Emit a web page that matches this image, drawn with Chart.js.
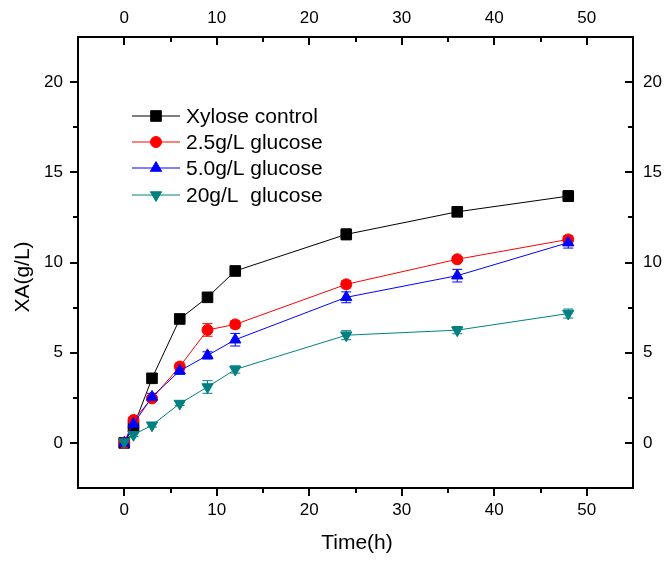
<!DOCTYPE html>
<html>
<head>
<meta charset="utf-8">
<script src="https://cdn.jsdelivr.net/npm/chart.js@4.4.1/dist/chart.umd.min.js"></script>
<style>
  html, body { margin: 0; padding: 0; background: #fff; }
  canvas { display: block; }
</style>
</head>
<body>
<canvas id="c" width="665" height="561"></canvas>
<script>
  // data
  const times = [0, 1, 3, 6, 9, 12, 24, 36, 48];
  const xyloseCtrl = [0, 0.9, 3.58, 6.87, 8.07, 9.53, 11.56, 12.81, 13.68];
  const glc25 = [0, 1.27, 2.47, 4.23, 6.26, 6.57, 8.79, 10.18, 11.28];
  const glc50 = [0, 1.05, 2.55, 4.0, 4.85, 5.72, 8.07, 9.27, 11.1];
  const glc20 = [0.05, 0.45, 0.98, 2.18, 3.1, 4.07, 5.97, 6.25, 7.17];

  const xyloseErr = [0.05, 0.1, 0.2, 0.15, 0.15, 0.15, 0.3, 0.2, 0.3];
  const glc25Err = [0.05, 0.15, 0.15, 0.2, 0.35, 0.2, 0.2, 0.15, 0.2];
  const glc50Err = [0.1, 0.2, 0.2, 0.2, 0.2, 0.35, 0.3, 0.35, 0.3];
  const glc20Err = [0.05, 0.1, 0.1, 0.1, 0.35, 0.2, 0.25, 0.2, 0.25];

  const xTicks = [0, 10, 20, 30, 40, 50];
  const xMinor = [5, 15, 25, 35, 45];
  const yTicks = [0, 5, 10, 15, 20];
  const yMinor = [2.5, 7.5, 12.5, 17.5];

  const labels = ['Xylose control', '2.5g/L glucose', '5.0g/L glucose', '20g/L  glucose'];

  const FONT = '"Liberation Sans", Arial, sans-serif';
  const pts = (ys) => times.map((t, i) => ({ x: t, y: ys[i] }));

  const series = [
    { label: labels[0], data: pts(xyloseCtrl), err: xyloseErr, color: '#000000', style: 'rect', r: 7.5, rot: 0, order: 3 },
    { label: labels[1], data: pts(glc25), err: glc25Err, color: '#ff0000', style: 'circle', r: 5.5, rot: 0, order: 2 },
    { label: labels[2], data: pts(glc50), err: glc50Err, color: '#0000ff', style: 'triangle', r: 6.5, rot: 0, order: 1 },
    { label: labels[3], data: pts(glc20), err: glc20Err, color: '#008080', style: 'triangle', r: 6.5, rot: 180, order: 0 },
  ];

  const errorBars = {
    id: 'errorBars',
    beforeDatasetsDraw(chart) {
      const { ctx } = chart;
      const ys = chart.scales.y;
      ctx.save();
      ctx.lineWidth = 1;
      series.forEach((s, i) => {
        const meta = chart.getDatasetMeta(i);
        ctx.strokeStyle = s.color;
        meta.data.forEach((p, j) => {
          const v = s.data[j].y, e = s.err[j];
          const top = ys.getPixelForValue(v + e), bot = ys.getPixelForValue(v - e);
          ctx.beginPath();
          ctx.moveTo(p.x, top); ctx.lineTo(p.x, bot);
          ctx.moveTo(p.x - 5, top); ctx.lineTo(p.x + 5, top);
          ctx.moveTo(p.x - 5, bot); ctx.lineTo(p.x + 5, bot);
          ctx.stroke();
        });
      });
      ctx.restore();
    }
  };

  const axisMarks = {
    id: 'axisMarks',
    afterDraw(chart) {
      const { ctx, chartArea: a, scales } = chart;
      ctx.save();
      ctx.strokeStyle = '#000';
      ctx.lineWidth = 2;
      const hx = (vals, len) => vals.forEach(v => {
        const px = Math.round(scales.x.getPixelForValue(v));
        ctx.beginPath();
        ctx.moveTo(px, a.bottom); ctx.lineTo(px, a.bottom + len); // bottom, outward
        ctx.moveTo(px, a.top); ctx.lineTo(px, a.top + len);       // top, inward
        ctx.stroke();
      });
      const vy = (vals, len) => vals.forEach(v => {
        const py = Math.round(scales.y.getPixelForValue(v));
        ctx.beginPath();
        ctx.moveTo(a.left - len, py); ctx.lineTo(a.left, py);     // left, outward
        ctx.moveTo(a.right - len, py); ctx.lineTo(a.right, py);   // right, inward
        ctx.stroke();
      });
      hx(xTicks, 8); hx(xMinor, 5);
      vy(yTicks, 8); vy(yMinor, 5);

      // axis titles
      ctx.fillStyle = '#000';
      ctx.font = '21px ' + FONT;
      ctx.textAlign = 'center';
      ctx.textBaseline = 'middle';
      ctx.fillText('Time(h)', 357, 543);
      ctx.translate(23, 277);
      ctx.rotate(-Math.PI / 2);
      ctx.fillText('XA(g/L)', 0, 0);
      ctx.restore();

      // legend
      ctx.save();
      ctx.font = '21px ' + FONT;
      ctx.textBaseline = 'middle';
      ctx.textAlign = 'left';
      const rows = [116, 142, 168, 195];
      series.forEach((s, i) => {
        const y = rows[i];
        ctx.strokeStyle = s.color;
        ctx.lineWidth = 1;
        ctx.beginPath();
        ctx.moveTo(132, y); ctx.lineTo(180, y);
        ctx.stroke();
        ctx.fillStyle = s.color;
        Chart.helpers.drawPoint(ctx, { pointStyle: s.style, radius: s.r, rotation: s.rot, borderWidth: 1 }, 156, y);
        ctx.fillStyle = '#000';
        ctx.fillText(s.label, 186, y + 1);
      });
      ctx.restore();
    }
  };

  const tickFont = { family: FONT, size: 17 };
  const setTicks = (vals) => (s) => { s.ticks = vals.map(v => ({ value: v })); };
  const baseAxis = (extra) => Object.assign({
    type: 'linear',
    grid: { display: true, drawOnChartArea: false, drawTicks: false },
    border: { display: true, color: '#000', width: 2 },
  }, extra);

  new Chart(document.getElementById('c'), {
    type: 'line',
    data: {
      datasets: series.map(s => ({
        label: s.label,
        data: s.data,
        order: s.order,
        borderColor: s.color,
        backgroundColor: s.color,
        borderWidth: 1,
        pointStyle: s.style,
        pointRadius: s.r,
        pointRotation: s.rot,
        pointBorderWidth: 1,
        tension: 0,
        clip: false,
      })),
    },
    options: {
      responsive: false,
      animation: false,
      devicePixelRatio: 1,
      layout: { padding: 0 },
      plugins: { legend: { display: false }, tooltip: { enabled: false } },
      scales: {
        x: baseAxis({
          position: 'bottom', min: -5, max: 55,
          afterBuildTicks: setTicks(xTicks),
          afterFit: (s) => { s.height = 73; },
          ticks: { font: tickFont, color: '#000', padding: 12, maxRotation: 0, autoSkip: false },
        }),
        x2: baseAxis({
          position: 'top', min: -5, max: 55,
          afterBuildTicks: setTicks(xTicks),
          afterFit: (s) => { s.height = 37; },
          ticks: { font: tickFont, color: '#000', padding: 8, maxRotation: 0, autoSkip: false },
        }),
        y: baseAxis({
          position: 'left', min: -2.5, max: 22.5,
          afterBuildTicks: setTicks(yTicks),
          afterFit: (s) => { s.width = 78; },
          ticks: { font: tickFont, color: '#000', padding: 15 },
        }),
        y2: baseAxis({
          position: 'right', min: -2.5, max: 22.5,
          afterBuildTicks: setTicks(yTicks),
          afterFit: (s) => { s.width = 32; },
          ticks: { font: tickFont, color: '#000', padding: 10 },
        }),
      },
    },
    plugins: [errorBars, axisMarks],
  });
</script>
</body>
</html>
